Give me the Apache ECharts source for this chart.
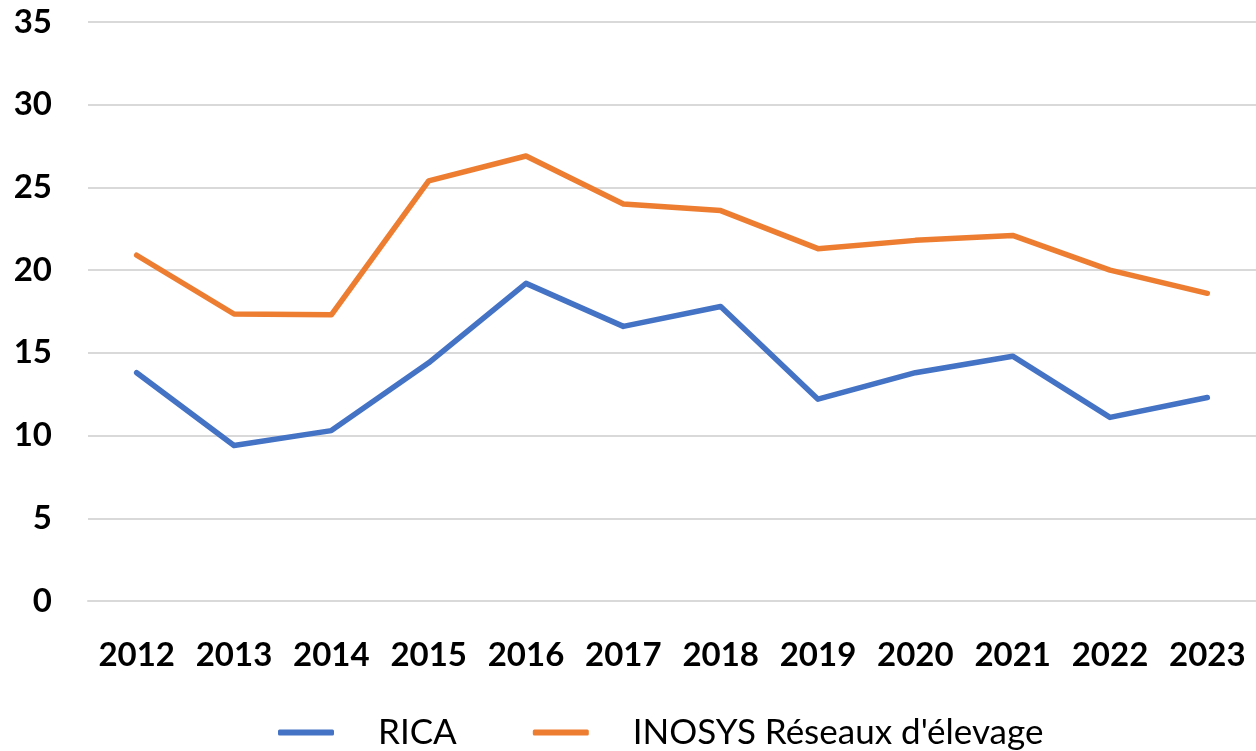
<!DOCTYPE html>
<html>
<head>
<meta charset="utf-8">
<script src="https://cdn.jsdelivr.net/npm/echarts@6/dist/echarts.min.js"></script>
<style>
  html, body { margin: 0; padding: 0; background: #fff; }
  #chart { width: 1256px; height: 751px; }
</style>
</head>
<body>
<div id="chart"></div>
<script>
const years = ['2012', '2013', '2014', '2015', '2016', '2017', '2018', '2019', '2020', '2021', '2022', '2023']
const rica = [13.8, 9.4, 10.3, 14.4, 19.2, 16.6, 17.8, 12.2, 13.8, 14.8, 11.1, 12.3]
const inosys = [20.9, 17.35, 17.3, 25.4, 26.9, 24.0, 23.6, 21.3, 21.8, 22.1, 20.0, 18.6]

const fontFamily = 'Lato, "Open Sans", sans-serif'

const chart = echarts.init(document.getElementById('chart'), null, { renderer: 'canvas' })

chart.setOption({
  animation: false,
  color: ['#4472C4', '#ED7D31'],
  grid: {
    left: 88,
    right: 0,
    top: 22,
    bottom: 150
  },
  legend: {
    bottom: -4,
    left: 273,
    icon: 'roundRect',
    itemWidth: 56,
    itemHeight: 6,
    itemGap: 76,
    textStyle: {
      fontFamily,
      fontSize: 35,
      color: '#000',
      padding: [0, 0, 0, 39]
    },
    data: ['RICA', "INOSYS Réseaux d'élevage"]
  },
  xAxis: {
    type: 'category',
    data: years,
    boundaryGap: true,
    axisLine: { lineStyle: { color: '#d9d9d9', width: 2 } },
    axisTick: { show: false },
    axisLabel: {
      interval: 0,
      margin: 38,
      fontFamily,
      fontWeight: 'bold',
      fontSize: 33,
      color: '#000'
    }
  },
  yAxis: {
    type: 'value',
    min: 0,
    max: 35,
    interval: 5,
    axisLine: { show: false },
    axisTick: { show: false },
    splitLine: { lineStyle: { color: '#d9d9d9', width: 2 } },
    axisLabel: {
      margin: 36,
      fontFamily,
      fontWeight: 'bold',
      fontSize: 33,
      color: '#000'
    }
  },
  series: [
    {
      name: 'RICA',
      type: 'line',
      data: rica,
      symbol: 'none',
      lineStyle: { width: 5.5, cap: 'round', join: 'round' }
    },
    {
      name: "INOSYS Réseaux d'élevage",
      type: 'line',
      data: inosys,
      symbol: 'none',
      lineStyle: { width: 5.5, cap: 'round', join: 'round' }
    }
  ]
})
</script>
</body>
</html>
